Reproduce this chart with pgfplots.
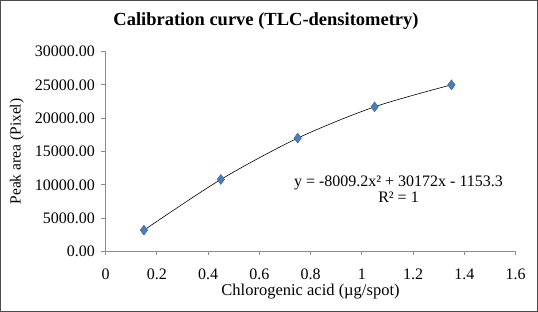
\documentclass[border=0pt]{standalone}
\usepackage{pgfplots}
\pgfplotsset{compat=1.18}
\usepackage{fontspec}
\setmainfont{Liberation Serif}
\definecolor{ptblue}{HTML}{4A7EBB}
\begin{document}
\begin{tikzpicture}[x=1pt,y=1pt]
\path[use as bounding box] (0,0) rectangle (538,312);
\draw[black!70, line width=1.4pt] (0.7,0.7) rectangle (537.3,311.3);
\node[anchor=base, font=\fontsize{18.5}{20}\selectfont\bfseries] at (266,286) {Calibration curve (TLC-densitometry)};
\begin{axis}[
  at={(105.5pt,60.5pt)}, anchor=south west,
  scale only axis, width=410pt, height=200pt,
  xmin=0, xmax=1.6, ymin=0, ymax=30000,
  xtick={0,0.2,...,1.6}, ytick={0,5000,...,30000},
  axis x line*=bottom, axis y line*=left,
  axis line style={black!45, line width=0.8pt},
  tick style={black!45, line width=0.8pt},
  tick align=outside, major tick length=4pt,
  /pgf/number format/assume math mode=true,
  yticklabel={\pgfmathprintnumber[fixed,fixed zerofill,precision=2,1000 sep={}]{\tick}},
  xticklabel={\pgfmathprintnumber[1000 sep={}]{\tick}},
  scaled y ticks=false,
  ticklabel style={font=\fontsize{16}{17}\selectfont, black},
  yticklabel style={anchor=east, xshift=-3pt},
  xticklabel style={anchor=center, yshift=-19pt},
  xlabel={Chlorogenic acid (µg/spot)},
  ylabel={Peak area (Pixel)},
  xlabel style={font=\fontsize{16.5}{17}\selectfont, at={(axis description cs:0.5,-0.2)}, anchor=center},
  ylabel style={font=\fontsize{15.5}{16}\selectfont, at={(axis description cs:-0.216,0.5)}, anchor=center, rotate=0},
  clip=false,
]
\addplot[black, line width=0.6pt, smooth, no marks] coordinates {
  (0.15,3200) (0.45,10800) (0.75,17000) (1.05,21700) (1.35,25000)};
\addplot[only marks, mark=diamond*, mark size=5pt, mark options={fill=ptblue, draw=ptblue!80!black}] coordinates {
  (0.15,3200) (0.45,10800) (0.75,17000) (1.05,21700) (1.35,25000)};
\node[anchor=base, font=\fontsize{16}{17}\selectfont] at (axis cs:1.1434,9675) {y = -8009.2x² + 30172x - 1153.3};
\node[anchor=base, font=\fontsize{16}{17}\selectfont] at (axis cs:1.1434,7275) {R² = 1};
\end{axis}
\end{tikzpicture}
\end{document}
